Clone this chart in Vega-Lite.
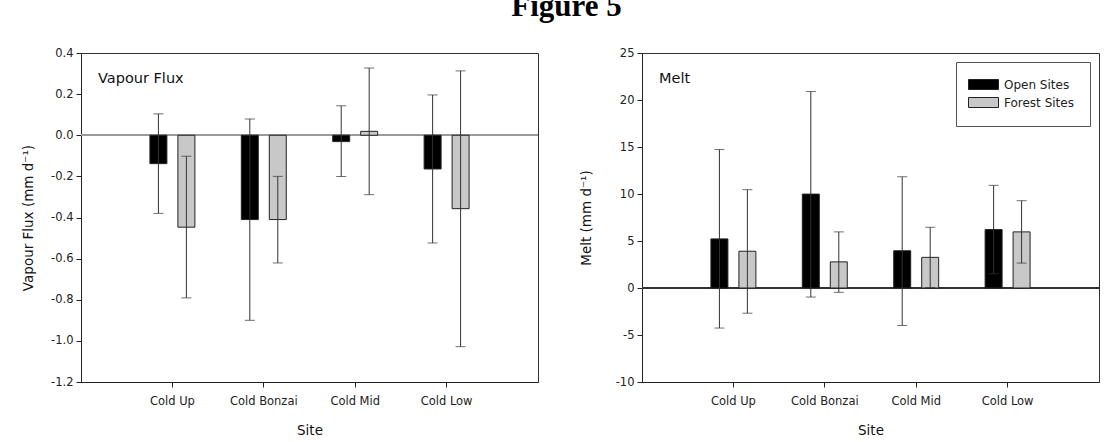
{
  "$schema": "https://vega.github.io/schema/vega-lite/v6.json",
  "background": "white",
  "padding": {"left": 21, "top": -10, "right": 10, "bottom": 2},
  "title": {"text": "Figure 5", "font": "Liberation Serif", "fontSize": 31, "fontWeight": "bold", "anchor": "middle", "color": "black", "offset": 8, "dy": -16, "dx": 6},
  "config": {
    "view": {"stroke": "#333", "strokeWidth": 1},
    "axis": {"grid": false, "labelFont": "DejaVu Sans", "labelFontSize": 11.5, "labelColor": "#222", "titleFont": "DejaVu Sans", "titleFontSize": 13.5, "titleFontWeight": "normal", "titleColor": "#111", "domainColor": "#222", "tickColor": "#222", "tickSize": 5},
    "axisY": {"labelPadding": 3, "titlePadding": 15},
    "axisX": {"labelPadding": 8, "titlePadding": 17, "labelAngle": 0},
    "legend": {"orient": "top-right", "offset": 9, "padding": 16, "strokeColor": "#555", "fillColor": "white", "labelFont": "DejaVu Sans", "labelFontSize": 12, "labelColor": "#222", "symbolType": "M-2.5,-0.8333H2.5V0.8333H-2.5Z", "symbolSize": 144, "symbolStrokeColor": "#222", "symbolStrokeWidth": 1, "labelOffset": 14, "rowPadding": 3, "symbolOffset": 5}
  },
  "datasets": {
    "vapour": [
      {"site": "Cold Up", "type": "Open Sites", "value": -0.138, "lo": -0.380, "hi": 0.104},
      {"site": "Cold Up", "type": "Forest Sites", "value": -0.447, "lo": -0.791, "hi": -0.102},
      {"site": "Cold Bonzai", "type": "Open Sites", "value": -0.41, "lo": -0.90, "hi": 0.079},
      {"site": "Cold Bonzai", "type": "Forest Sites", "value": -0.41, "lo": -0.621, "hi": -0.20},
      {"site": "Cold Mid", "type": "Open Sites", "value": -0.031, "lo": -0.201, "hi": 0.143},
      {"site": "Cold Mid", "type": "Forest Sites", "value": 0.019, "lo": -0.289, "hi": 0.327},
      {"site": "Cold Low", "type": "Open Sites", "value": -0.164, "lo": -0.524, "hi": 0.196},
      {"site": "Cold Low", "type": "Forest Sites", "value": -0.357, "lo": -1.028, "hi": 0.313}
    ],
    "melt": [
      {"site": "Cold Up", "type": "Open Sites", "value": 5.22, "lo": -4.26, "hi": 14.73},
      {"site": "Cold Up", "type": "Forest Sites", "value": 3.91, "lo": -2.68, "hi": 10.46},
      {"site": "Cold Bonzai", "type": "Open Sites", "value": 9.99, "lo": -0.96, "hi": 20.9},
      {"site": "Cold Bonzai", "type": "Forest Sites", "value": 2.78, "lo": -0.46, "hi": 5.97},
      {"site": "Cold Mid", "type": "Open Sites", "value": 3.96, "lo": -3.98, "hi": 11.83},
      {"site": "Cold Mid", "type": "Forest Sites", "value": 3.26, "lo": 0.05, "hi": 6.46},
      {"site": "Cold Low", "type": "Open Sites", "value": 6.22, "lo": 1.52, "hi": 10.92},
      {"site": "Cold Low", "type": "Forest Sites", "value": 5.97, "lo": 2.65, "hi": 9.29}
    ]
  },
  "spacing": 38,
  "resolve": {"scale": {"color": "independent"}},
  "hconcat": [
    {
      "width": 457, "height": 329,
      "data": {"name": "vapour"},
      "title": {"text": "Vapour Flux", "anchor": "start", "frame": "group", "offset": -50, "dx": 17, "font": "DejaVu Sans", "fontSize": 14.5, "fontWeight": "normal", "baseline": "alphabetic", "color": "#111"},
      "layer": [
        {"mark": {"type": "rule", "color": "#999", "strokeWidth": 1.5}, "encoding": {"y": {"datum": 0, "type": "quantitative", "scale": {"domain": [-1.2, 0.4], "nice": false, "zero": false}}}},
        {
          "mark": {"type": "bar", "stroke": "#222", "strokeWidth": 1},
          "encoding": {
            "x": {"field": "site", "type": "nominal", "sort": ["Cold Up", "Cold Bonzai", "Cold Mid", "Cold Low"], "scale": {"paddingInner": 0, "paddingOuter": 0.5}, "axis": {"title": "Site"}},
            "xOffset": {"field": "type", "type": "nominal", "sort": ["Open Sites", "Forest Sites"], "scale": {"paddingInner": 0.393, "paddingOuter": 0.83}},
            "y": {"field": "value", "type": "quantitative", "stack": null, "scale": {"domain": [-1.2, 0.4], "nice": false, "zero": false}, "axis": {"title": "Vapour Flux (mm d⁻¹)", "values": [-1.2, -1.0, -0.8, -0.6, -0.4, -0.2, 0, 0.2, 0.4], "labelExpr": "replace(format(datum.value, '.1f'), '\u2212', '-')"}},
            "color": {"field": "type", "type": "nominal", "scale": {"domain": ["Open Sites", "Forest Sites"], "range": ["#000000", "#c8c8c8"]}, "legend": null}
          }
        },
        {
          "mark": {"type": "rule", "color": "#333", "strokeWidth": 1},
          "encoding": {
            "x": {"field": "site", "type": "nominal", "sort": ["Cold Up", "Cold Bonzai", "Cold Mid", "Cold Low"]},
            "xOffset": {"field": "type", "type": "nominal", "sort": ["Open Sites", "Forest Sites"]},
            "y": {"field": "lo", "type": "quantitative"},
            "y2": {"field": "hi"}
          }
        },
        {
          "mark": {"type": "tick", "color": "#333", "orient": "horizontal", "size": 10, "thickness": 1},
          "encoding": {
            "x": {"field": "site", "type": "nominal", "sort": ["Cold Up", "Cold Bonzai", "Cold Mid", "Cold Low"]},
            "xOffset": {"field": "type", "type": "nominal", "sort": ["Open Sites", "Forest Sites"]},
            "y": {"field": "lo", "type": "quantitative"}
          }
        },
        {
          "mark": {"type": "tick", "color": "#333", "orient": "horizontal", "size": 10, "thickness": 1},
          "encoding": {
            "x": {"field": "site", "type": "nominal", "sort": ["Cold Up", "Cold Bonzai", "Cold Mid", "Cold Low"]},
            "xOffset": {"field": "type", "type": "nominal", "sort": ["Open Sites", "Forest Sites"]},
            "y": {"field": "hi", "type": "quantitative"}
          }
        }
      ]
    },
    {
      "width": 457, "height": 329,
      "data": {"name": "melt"},
      "title": {"text": "Melt", "anchor": "start", "frame": "group", "offset": -50, "dx": 17, "font": "DejaVu Sans", "fontSize": 14.5, "fontWeight": "normal", "baseline": "alphabetic", "color": "#111"},
      "layer": [
        {"mark": {"type": "rule", "color": "#333", "strokeWidth": 1}, "encoding": {"y": {"datum": 0, "type": "quantitative", "scale": {"domain": [-10, 25], "nice": false, "zero": false}}}},
        {
          "mark": {"type": "bar", "stroke": "#222", "strokeWidth": 1},
          "encoding": {
            "x": {"field": "site", "type": "nominal", "sort": ["Cold Up", "Cold Bonzai", "Cold Mid", "Cold Low"], "scale": {"paddingInner": 0, "paddingOuter": 0.5}, "axis": {"title": "Site"}},
            "xOffset": {"field": "type", "type": "nominal", "sort": ["Open Sites", "Forest Sites"], "scale": {"paddingInner": 0.393, "paddingOuter": 0.83}},
            "y": {"field": "value", "type": "quantitative", "stack": null, "scale": {"domain": [-10, 25], "nice": false, "zero": false}, "axis": {"title": "Melt (mm d⁻¹)", "titlePadding": 22, "values": [-10, -5, 0, 5, 10, 15, 20, 25], "labelExpr": "replace(format(datum.value, 'd'), '\u2212', '-')"}},
            "color": {"field": "type", "type": "nominal", "scale": {"domain": ["Open Sites", "Forest Sites"], "range": ["#000000", "#c8c8c8"]}, "legend": {"title": null}}
          }
        },
        {
          "mark": {"type": "rule", "color": "#333", "strokeWidth": 1},
          "encoding": {
            "x": {"field": "site", "type": "nominal", "sort": ["Cold Up", "Cold Bonzai", "Cold Mid", "Cold Low"]},
            "xOffset": {"field": "type", "type": "nominal", "sort": ["Open Sites", "Forest Sites"]},
            "y": {"field": "lo", "type": "quantitative"},
            "y2": {"field": "hi"}
          }
        },
        {
          "mark": {"type": "tick", "color": "#333", "orient": "horizontal", "size": 10, "thickness": 1},
          "encoding": {
            "x": {"field": "site", "type": "nominal", "sort": ["Cold Up", "Cold Bonzai", "Cold Mid", "Cold Low"]},
            "xOffset": {"field": "type", "type": "nominal", "sort": ["Open Sites", "Forest Sites"]},
            "y": {"field": "lo", "type": "quantitative"}
          }
        },
        {
          "mark": {"type": "tick", "color": "#333", "orient": "horizontal", "size": 10, "thickness": 1},
          "encoding": {
            "x": {"field": "site", "type": "nominal", "sort": ["Cold Up", "Cold Bonzai", "Cold Mid", "Cold Low"]},
            "xOffset": {"field": "type", "type": "nominal", "sort": ["Open Sites", "Forest Sites"]},
            "y": {"field": "hi", "type": "quantitative"}
          }
        }
      ]
    }
  ]
}
